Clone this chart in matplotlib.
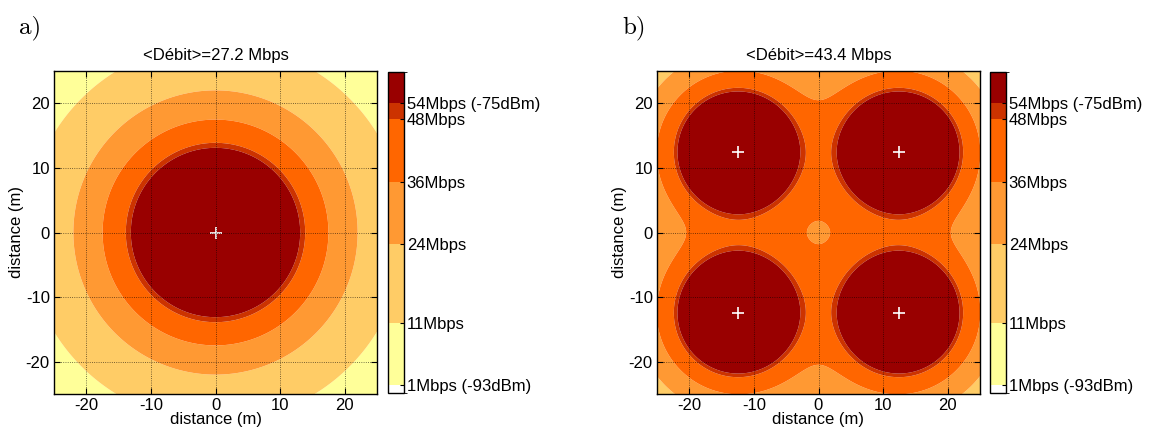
import numpy as np
import matplotlib
matplotlib.use("Agg")
import matplotlib.pyplot as plt
from matplotlib.colors import ListedColormap, BoundaryNorm

# ---- data ----
threshold_dbm = [-93, -89, -84, -80, -76, -75]
rate_labels = ['1Mbps (-93dBm)', '11Mbps', '24Mbps', '36Mbps', '48Mbps', '54Mbps (-75dBm)']
band_colors = ['#FFFFFF', '#FFFF99', '#FFCC66', '#FF9933', '#FF6600', '#CC3300', '#990000']
cbar_min, cbar_max = -93.5, -73.0

ap_a_x = [0.0]
ap_a_y = [0.0]
p1m_a = -30.3          # received power at 1 m (dBm), panel a

ap_b_x = [-12.5, 12.5, -12.5, 12.5]
ap_b_y = [12.5, 12.5, -12.5, -12.5]
p1m_b = -36.3          # received power at 1 m (dBm), panel b

path_loss_exp = 4.0
titles = ['<Débit>=27.2 Mbps', '<Débit>=43.4 Mbps']
panel_tags = ['a)', 'b)']
ticks = [-20, -10, 0, 10, 20]
extent = 25

plt.rcParams['font.family'] = ['Liberation Sans', 'DejaVu Sans']
plt.rcParams['axes.unicode_minus'] = False

def field(xs, ys, p1m):
    g = np.linspace(-extent, extent, 801)
    X, Y = np.meshgrid(g, g)
    lin = np.zeros_like(X)
    for x0, y0 in zip(xs, ys):
        d = np.maximum(np.hypot(X - x0, Y - y0), 0.05)
        lin += 10 ** ((p1m - 10 * path_loss_exp * np.log10(d)) / 10)
    P = 10 * np.log10(lin)
    return X, Y, np.clip(P, cbar_min + 0.01, cbar_max - 0.01)

levels = [cbar_min] + threshold_dbm + [cbar_max]

fig = plt.figure(figsize=(11.51, 4.33), dpi=100)
W, H = 1151, 433
ax_lefts = [54, 657]
cb_lefts = [388, 990]
ax_top, ax_bot = 71, 394
fs = 12

panels = [(ap_a_x, ap_a_y, p1m_a), (ap_b_x, ap_b_y, p1m_b)]
for i, (xs, ys, p1m) in enumerate(panels):
    cmap = ListedColormap(band_colors)
    norm = BoundaryNorm(levels, cmap.N)
    ax = fig.add_axes([ax_lefts[i] / W, 1 - ax_bot / H, 323 / W, (ax_bot - ax_top) / H])
    X, Y, P = field(xs, ys, p1m)
    cs = ax.contourf(X, Y, P, levels=levels, cmap=cmap, norm=norm, antialiased=True)
    ax.plot(xs, ys, '+', color='white', ms=9, mew=1.2)
    ax.set_xlim(-extent, extent)
    ax.set_ylim(-extent, extent)
    ax.set_xticks(ticks)
    ax.set_yticks(ticks)
    ax.grid(True, color='black', linestyle=':', linewidth=0.6, alpha=0.7)
    ax.set_axisbelow(False)
    ax.tick_params(direction='in', top=True, right=True, labelsize=fs, length=4,
                   width=0.8, pad=3)
    for s in ax.spines.values():
        s.set_linewidth(1.0)
    ax.set_xlabel('distance (m)', fontsize=fs, labelpad=-1)
    ax.set_ylabel('distance (m)', fontsize=fs, labelpad=1)
    ax.set_title(titles[i], fontsize=fs, pad=8)
    fig.text((ax_lefts[i] - 35) / W, 1 - 28 / H, panel_tags[i], family='cmr10',
             fontsize=18, va='center', ha='left')

    cax = fig.add_axes([cb_lefts[i] / W, 1 - 393 / H, 16 / W, (393 - 72) / H])
    cb = fig.colorbar(cs, cax=cax, spacing='proportional', ticks=threshold_dbm)
    cb.set_ticklabels(rate_labels)
    cb.ax.tick_params(direction='in', labelsize=fs, length=3, width=0.8, pad=2)
    cb.outline.set_linewidth(1.0)

fig.savefig('out.png', dpi=100)
